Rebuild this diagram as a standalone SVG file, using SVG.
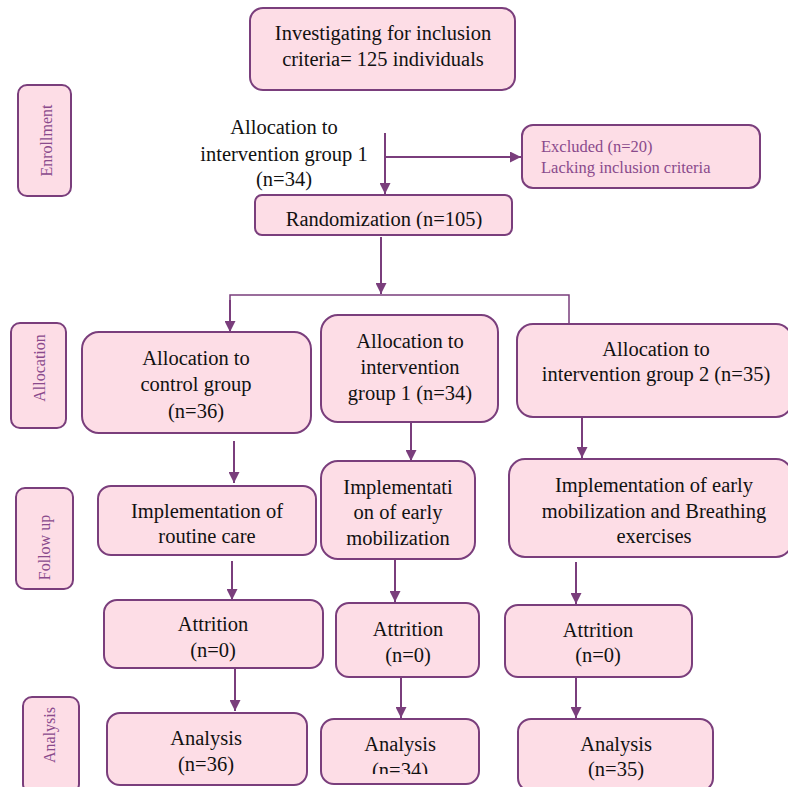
<svg xmlns="http://www.w3.org/2000/svg" width="788" height="787" viewBox="0 0 788 787">
<style>
.box{fill:#fddde6;stroke:#7a3e7c;stroke-width:2}
.t{font-family:'Liberation Serif','Times New Roman',serif;font-size:20.5px;fill:#111;text-anchor:middle}
.lab{font-family:'Liberation Serif','Times New Roman',serif;font-size:16px;fill:#8a4a8c;text-anchor:middle}
.ex{font-family:'Liberation Serif','Times New Roman',serif;font-size:16.5px;fill:#8a4a8c}
.c{stroke:#7a3e7c;stroke-width:2;fill:none}
.thin{stroke:#7a3e7c;stroke-width:1.5;fill:none}
</style>
<defs>
<marker id="ah" viewBox="0 0 10 10" refX="10" refY="5" markerWidth="11" markerHeight="11" markerUnits="userSpaceOnUse" orient="auto">
<path d="M0,0 L10,5 L0,10 z" fill="#7a3e7c"/>
</marker>
<clipPath id="clipR"><rect x="0" y="0" width="788" height="229"/></clipPath>
<clipPath id="clipM"><rect x="0" y="0" width="788" height="774"/></clipPath>
</defs>
<rect width="788" height="787" fill="#fff"/>

<g id="connectors">
<line class="c" x1="385" y1="133" x2="385" y2="194" marker-end="url(#ah)"/>
<line class="c" x1="385" y1="157" x2="521" y2="157" marker-end="url(#ah)"/>
<line class="c" x1="381" y1="237" x2="381" y2="294" marker-end="url(#ah)"/>
<path class="thin" d="M230,332 L230,295 L569,295 L569,323"/>
<line class="c" x1="230" y1="300" x2="230" y2="332" marker-end="url(#ah)"/>
<line class="c" x1="234" y1="441" x2="234" y2="483" marker-end="url(#ah)"/>
<line class="c" x1="411" y1="422" x2="411" y2="461" marker-end="url(#ah)"/>
<line class="c" x1="582" y1="417" x2="582" y2="458" marker-end="url(#ah)"/>
<line class="c" x1="232" y1="561" x2="232" y2="600" marker-end="url(#ah)"/>
<line class="c" x1="395" y1="559" x2="395" y2="602" marker-end="url(#ah)"/>
<line class="c" x1="576" y1="562" x2="576" y2="604" marker-end="url(#ah)"/>
<line class="c" x1="235" y1="668" x2="235" y2="711" marker-end="url(#ah)"/>
<line class="c" x1="401" y1="677" x2="401" y2="718" marker-end="url(#ah)"/>
<line class="c" x1="576" y1="677" x2="576" y2="718" marker-end="url(#ah)"/>
</g>

<g id="lbl-enrollment">
<rect class="box" x="18" y="85" width="53" height="111" rx="9"/>
<text class="lab" transform="translate(52,140.5) rotate(-90)">Enrollment</text>
</g>
<g id="lbl-allocation">
<rect class="box" x="11" y="323" width="55" height="105" rx="9"/>
<text class="lab" transform="translate(45,368) rotate(-90)">Allocation</text>
</g>
<g id="lbl-followup">
<rect class="box" x="16" y="488" width="57" height="101" rx="9"/>
<text class="lab" transform="translate(50,547.5) rotate(-90)">Follow up</text>
</g>
<g id="lbl-analysis">
<rect class="box" x="23" y="697" width="56" height="96" rx="9"/>
<text class="lab" transform="translate(55,735) rotate(-90)">Analysis</text>
</g>

<g id="n-investigating">
<rect class="box" x="250" y="8" width="265" height="82" rx="13"/>
<text class="t" x="383" y="40">Investigating for inclusion</text>
<text class="t" x="383" y="66">criteria= 125 individuals</text>
</g>

<g id="n-alloc-text">
<text class="t" x="284" y="134">Allocation to</text>
<text class="t" x="284" y="161">intervention group 1</text>
<text class="t" x="284" y="186">(n=34)</text>
</g>

<g id="n-excluded">
<rect class="box" x="522" y="125" width="238" height="63" rx="11"/>
<text class="ex" x="541" y="152">Excluded (n=20)</text>
<text class="ex" x="541" y="173">Lacking inclusion criteria</text>
</g>

<g id="n-randomization">
<rect class="box" x="255" y="195" width="257" height="40" rx="7"/>
<text class="t" x="384" y="226" clip-path="url(#clipR)">Randomization (n=105)</text>
</g>

<g id="n-control">
<rect class="box" x="82" y="332" width="229" height="101" rx="17"/>
<text class="t" x="196" y="365">Allocation to</text>
<text class="t" x="196" y="391">control group</text>
<text class="t" x="196" y="418">(n=36)</text>
</g>

<g id="n-int1">
<rect class="box" x="321" y="315" width="177" height="107" rx="17"/>
<text class="t" x="410" y="348">Allocation to</text>
<text class="t" x="410" y="374">intervention</text>
<text class="t" x="410" y="400">group 1 (n=34)</text>
</g>

<g id="n-int2">
<rect class="box" x="517" y="324" width="275" height="93" rx="16"/>
<text class="t" x="656" y="356">Allocation to</text>
<text class="t" x="656" y="381">intervention group 2 (n=35)</text>
</g>

<g id="n-routine">
<rect class="box" x="98" y="486" width="218" height="69" rx="13"/>
<text class="t" x="207" y="518">Implementation of</text>
<text class="t" x="207" y="543">routine care</text>
</g>

<g id="n-early">
<rect class="box" x="321" y="461" width="154" height="98" rx="17"/>
<text class="t" x="398" y="494">Implementati</text>
<text class="t" x="398" y="519">on of early</text>
<text class="t" x="398" y="545">mobilization</text>
</g>

<g id="n-breathing">
<rect class="box" x="509" y="459" width="283" height="98" rx="16"/>
<text class="t" x="654" y="492">Implementation of early</text>
<text class="t" x="654" y="518">mobilization and Breathing</text>
<text class="t" x="654" y="543">exercises</text>
</g>

<g id="n-attr1">
<rect class="box" x="104" y="600" width="219" height="68" rx="13"/>
<text class="t" x="213" y="631">Attrition</text>
<text class="t" x="213" y="657">(n=0)</text>
</g>
<g id="n-attr2">
<rect class="box" x="336" y="603" width="143" height="74" rx="13"/>
<text class="t" x="408" y="636">Attrition</text>
<text class="t" x="408" y="662">(n=0)</text>
</g>
<g id="n-attr3">
<rect class="box" x="505" y="605" width="187" height="72" rx="13"/>
<text class="t" x="598" y="637">Attrition</text>
<text class="t" x="598" y="662">(n=0)</text>
</g>

<g id="n-an1">
<rect class="box" x="107" y="713" width="200" height="72" rx="13"/>
<text class="t" x="206" y="745">Analysis</text>
<text class="t" x="206" y="771">(n=36)</text>
</g>
<g id="n-an2">
<rect class="box" x="321" y="719" width="158" height="65" rx="13"/>
<text class="t" x="400" y="751">Analysis</text>
<text class="t" x="400" y="777" clip-path="url(#clipM)">(n=34)</text>
</g>
<g id="n-an3">
<rect class="box" x="518" y="719" width="195" height="72" rx="13"/>
<text class="t" x="616" y="751">Analysis</text>
<text class="t" x="616" y="776">(n=35)</text>
</g>
</svg>
